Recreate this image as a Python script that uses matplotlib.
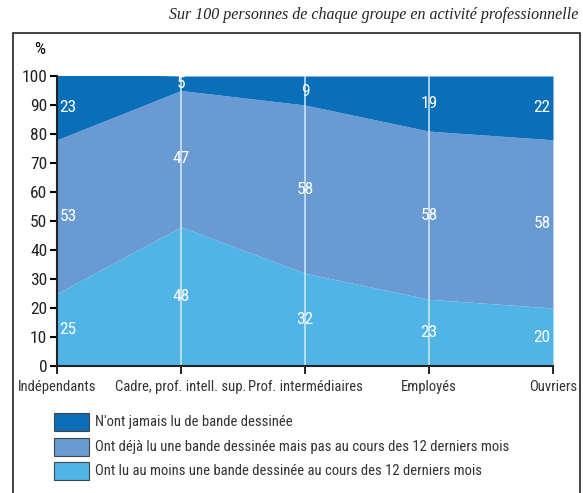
import matplotlib.pyplot as plt
import numpy as np
from matplotlib.patches import Rectangle
from matplotlib import font_manager

# Data
categories = ['Indépendants', 'Cadre, prof. intell. sup.', 'Prof. intermédiaires', 'Employés', 'Ouvriers']
lu_12_mois = [25, 48, 32, 23, 20]
deja_lu = [53, 47, 58, 58, 58]
jamais_lu = [23, 5, 9, 19, 22]
series_labels = ["N'ont jamais lu de bande dessinée",
                 "Ont déjà lu une bande dessinée mais pas au cours des 12 derniers mois",
                 "Ont lu au moins une bande dessinée au cours des 12 derniers mois"]
yticks = list(range(0, 101, 10))

c_dark = '#0a6fb8'
c_mid = '#6a9ad2'
c_light = '#50b5e6'

# pick a narrow font if one is installed
names = {f.name for f in font_manager.fontManager.ttflist}
narrow = [n for n in ['Liberation Sans Narrow', 'Roboto Condensed', 'DejaVu Sans Condensed',
                      'Open Sans Condensed', 'Roboto'] if n in names]
narrow_font = narrow[0] if narrow else 'DejaVu Sans'
is_cond = narrow_font != 'Roboto'
plt.rcParams['font.family'] = [narrow_font, 'DejaVu Sans']
if narrow_font == 'DejaVu Sans Condensed':
    plt.rcParams['font.stretch'] = 'condensed'

k = 1.0 if is_cond else 0.8

fig = plt.figure(figsize=(5.83, 4.93), dpi=100)
ax = fig.add_axes([57 / 583, 1 - 366 / 493, (553 - 57) / 583, (366 - 76) / 493])

x = np.arange(len(categories))
b1 = np.array(lu_12_mois)
b2 = b1 + np.array(deja_lu)
b3 = b2 + np.array(jamais_lu)

ax.fill_between(x, 0, b1, color=c_light, lw=0)
ax.fill_between(x, b1, b2, color=c_mid, lw=0)
ax.fill_between(x, b2, np.maximum(b3, 100), color=c_dark, lw=0)

# vertical white lines
for xi in x[1:-1]:
    ax.axvline(xi, color='#d8eaf6', lw=1.2, alpha=0.9)

# value labels in middle of bands
for i in x:
    top = min(b3[i], 100)
    if i == 0:
        ha, xo = 'left', 0.02
    elif i == len(x) - 1:
        ha, xo = 'right', -0.02
    else:
        ha, xo = 'center', 0
    for lo, hi, v in [(0, b1[i], lu_12_mois[i]), (b1[i], b2[i], deja_lu[i]), (b2[i], top, jamais_lu[i])]:
        ax.text(i + xo, (lo + hi) / 2, str(v), color='white', ha=ha, va='center', fontsize=12.5 * k)

ax.set_xlim(0, len(x) - 1)
ax.set_ylim(0, 100)
ax.set_yticks(yticks)
ax.set_xticks(x)
ax.set_xticklabels(categories, fontsize=10.5 * k, color='#333333')
ax.tick_params(axis='y', labelsize=12.5 * k, labelcolor='#222222', length=5, width=1.5, pad=2)
ax.tick_params(axis='x', length=6, width=1.2, pad=4)
for s in ['top', 'right']:
    ax.spines[s].set_visible(False)
for s in ['left', 'bottom']:
    ax.spines[s].set_linewidth(1.5)
    ax.spines[s].set_color('#222222')

fig.text(40 / 583, 1 - 50 / 493, '%', fontsize=12.5 * k, ha='center', va='center')

# title
fig.text(578 / 583, 1 - 15 / 493, 'Sur 100 personnes de chaque groupe en activité professionnelle',
         family='Liberation Serif', style='italic', fontsize=11.5, ha='right', va='center',
         color='#222222')

# frame
fig.patches.append(Rectangle((13 / 583, -0.01), (580 - 13) / 583, 1.01 - 33 / 493,
                             transform=fig.transFigure, fill=False, ec='#222222', lw=1.2))

# legend
for j, (lab, col) in enumerate(zip(series_labels, [c_dark, c_mid, c_light])):
    yc = 422 + j * 24.5
    fig.patches.append(Rectangle((54 / 583, 1 - (yc + 9) / 493), 35 / 583, 18 / 493,
                                 transform=fig.transFigure, fc=col, ec='#444444', lw=0.8))
    fig.text(95 / 583, 1 - yc / 493, lab, fontsize=10.5 * k, ha='left', va='center',
             color='#333333')

fig.savefig('out.png', dpi=100)
